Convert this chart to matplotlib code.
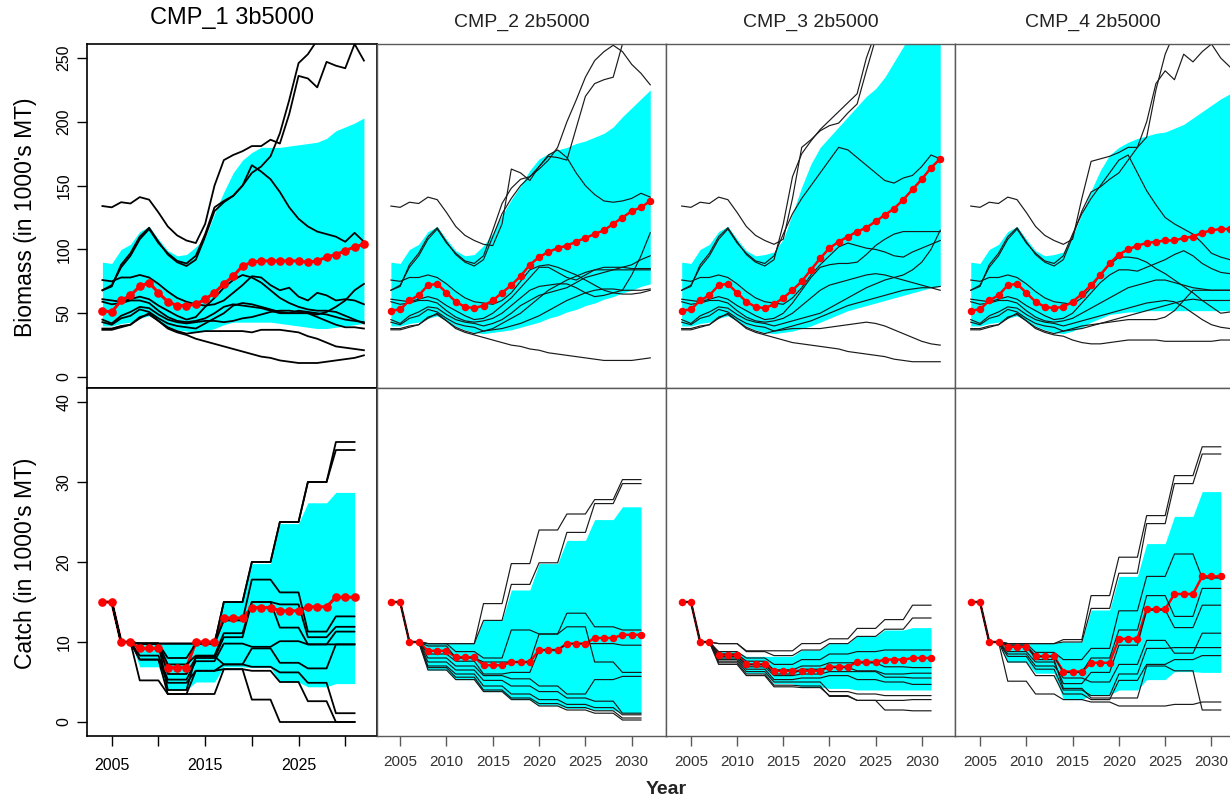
import numpy as np
import matplotlib
matplotlib.use('Agg')
import matplotlib.pyplot as plt

plt.rcParams['font.family'] = ['Liberation Sans', 'DejaVu Sans']

# ---------------- DATA ----------------
titles = ["CMP_1 3b5000", "CMP_2 2b5000", "CMP_3 2b5000", "CMP_4 2b5000"]
years_bio = list(range(2004, 2033))      # 29 years
years_catch = list(range(2004, 2032))    # 28 years
catch_block_len = [2, 2, 3, 3, 3, 3, 3, 3, 3, 3]
catch_start = [15.0, 10.0]               # shared first two TAC blocks

# biomass history 2004-2013, shared by all CMPs (10 trajectories)
bio_hist = [
    [134, 133, 137, 136, 141, 139, 129, 118, 111, 107],
    [68, 71, 88, 97, 110, 117, 106, 96, 90, 87],
    [68, 72, 86, 95, 108, 116, 105, 97, 91, 89],
    [76, 75, 78, 78, 80, 78, 73, 67, 62, 59],
    [61, 60, 59, 61, 63, 61, 56, 52, 48, 45],
    [59, 57, 58, 60, 60, 58, 52, 47, 44, 43],
    [45, 42, 48, 51, 55, 54, 49, 45, 43, 42],
    [43, 41, 46, 48, 53, 51, 46, 42, 40, 39],
    [38, 38, 40, 41, 47, 49, 44, 39, 36, 34],
    [37, 37, 39, 41, 46, 50, 44, 38, 35, 33],
]

# biomass projections 2014-2032
bio_proj_1 = [
    [105, 120, 150, 170, 174, 177, 181, 181, 186, 183, 206, 236, 234, 227, 247, 244, 242, 261, 248],
    [92, 110, 130, 137, 142, 150, 160, 165, 173, 191, 217, 246, 253, 264, 275, 285, 290, 295, 300],
    [95, 112, 133, 138, 142, 150, 166, 161, 155, 145, 133, 124, 118, 114, 112, 110, 106, 113, 106],
    [57, 56, 57, 60, 66, 72, 79, 78, 72, 68, 70, 63, 60, 66, 64, 60, 61, 60, 57],
    [47, 55, 62, 70, 76, 80, 78, 74, 68, 62, 58, 55, 53, 52, 52, 51, 48, 45, 42],
    [44, 46, 50, 55, 57, 56, 55, 54, 52, 50, 50, 52, 51, 50, 49, 47, 45, 44, 43],
    [43, 44, 44, 43, 44, 46, 47, 49, 51, 52, 52, 51, 50, 47, 44, 41, 39, 39, 38],
    [38, 42, 46, 50, 56, 58, 57, 55, 53, 51, 50, 50, 50, 49, 51, 55, 60, 68, 73],
    [35, 36, 36, 36, 36, 36, 35, 37, 37, 37, 36, 35, 32, 30, 27, 24, 23, 22, 21],
    [30, 28, 26, 24, 22, 20, 18, 16, 15, 13, 12, 11, 11, 11, 12, 13, 14, 15, 17],
]
bio_proj_2 = [
    [104, 103, 120, 163, 160, 154, 165, 173, 172, 170, 195, 220, 230, 233, 235, 261, 275, 285, 295],
    [92, 110, 128, 140, 150, 157, 165, 174, 178, 172, 160, 150, 143, 138, 137, 138, 140, 144, 141],
    [95, 115, 136, 148, 155, 157, 163, 170, 180, 200, 217, 235, 248, 255, 260, 255, 245, 238, 229],
    [58, 57, 60, 66, 75, 84, 87, 88, 86, 83, 80, 76, 72, 68, 66, 65, 65, 66, 68],
    [46, 50, 56, 62, 70, 78, 86, 86, 82, 78, 76, 80, 84, 84, 84, 84, 84, 84, 84],
    [44, 46, 50, 56, 62, 68, 71, 72, 73, 73, 70, 66, 63, 64, 66, 68, 80, 95, 113],
    [40, 42, 45, 50, 56, 60, 64, 66, 68, 70, 74, 78, 80, 82, 84, 86, 88, 92, 95],
    [36, 38, 42, 46, 50, 56, 62, 68, 72, 76, 79, 82, 84, 86, 86, 86, 85, 85, 85],
    [36, 37, 38, 40, 42, 45, 48, 52, 56, 60, 63, 66, 68, 69, 69, 68, 68, 68, 69],
    [31, 29, 27, 25, 24, 22, 21, 19, 18, 17, 16, 15, 14, 13, 13, 13, 13, 14, 15],
]
bio_proj_3 = [
    [104, 108, 140, 180, 186, 193, 197, 199, 207, 214, 240, 265, 285, 300, 310, 320, 330, 340, 350],
    [92, 120, 157, 175, 185, 194, 201, 208, 215, 222, 250, 270, 290, 300, 310, 320, 330, 340, 350],
    [95, 112, 128, 140, 150, 160, 170, 180, 178, 172, 166, 160, 154, 152, 156, 158, 165, 174, 171],
    [58, 57, 62, 70, 80, 88, 95, 102, 105, 103, 101, 100, 98, 95, 94, 98, 101, 104, 107],
    [46, 50, 58, 68, 78, 86, 88, 89, 89, 90, 96, 103, 108, 112, 114, 114, 114, 114, 114],
    [44, 46, 50, 56, 62, 68, 72, 74, 76, 78, 80, 81, 80, 78, 76, 74, 72, 70, 68],
    [40, 42, 44, 46, 48, 50, 54, 58, 62, 66, 70, 73, 76, 78, 80, 84, 90, 100, 115],
    [36, 38, 40, 42, 44, 47, 50, 53, 56, 58, 60, 62, 64, 66, 68, 69, 70, 70, 71],
    [36, 37, 38, 38, 38, 38, 39, 40, 41, 42, 43, 42, 40, 37, 34, 31, 28, 26, 25],
    [31, 29, 27, 26, 25, 24, 23, 22, 20, 19, 18, 17, 16, 14, 13, 12, 12, 12, 12],
]
bio_proj_4 = [
    [104, 108, 140, 169, 171, 173, 176, 180, 180, 188, 225, 253, 270, 280, 290, 300, 310, 320, 330],
    [92, 110, 130, 145, 149, 155, 160, 170, 180, 200, 230, 240, 233, 253, 247, 255, 261, 250, 243],
    [95, 112, 128, 140, 150, 160, 170, 174, 160, 146, 135, 125, 120, 116, 112, 105, 97, 94, 92],
    [58, 57, 62, 70, 80, 88, 94, 94, 93, 90, 85, 81, 76, 71, 66, 60, 55, 50, 51],
    [46, 50, 58, 66, 74, 80, 84, 84, 83, 86, 89, 92, 96, 99, 95, 89, 85, 82, 81],
    [44, 46, 50, 54, 58, 62, 66, 70, 72, 74, 76, 76, 74, 72, 70, 69, 68, 68, 68],
    [40, 42, 44, 46, 48, 50, 52, 54, 56, 58, 59, 60, 59, 55, 50, 45, 41, 39, 38],
    [36, 38, 40, 41, 42, 43, 44, 45, 45, 45, 45, 47, 52, 60, 68, 68, 68, 68, 68],
    [36, 37, 38, 40, 42, 44, 46, 48, 50, 52, 54, 56, 58, 60, 61, 60, 60, 60, 60],
    [32, 29, 27, 26, 26, 27, 28, 29, 29, 29, 29, 28, 28, 28, 28, 28, 28, 29, 29],
]

bio_median_1 = [52, 51, 60, 64, 71, 74, 66, 59, 56, 56, 57, 61, 66, 73, 79, 87, 90, 91, 91, 91, 91, 91, 90, 91, 94, 96, 99, 102, 104]
bio_median_2 = [52, 53, 60, 64, 72, 73, 66, 59, 55, 54, 56, 60, 66, 72, 79, 88, 94, 98, 101, 103, 106, 109, 112, 115, 120, 125, 130, 133, 138]
bio_median_3 = [52, 53, 60, 64, 72, 73, 66, 59, 55, 54, 57, 62, 68, 75, 84, 93, 101, 106, 110, 114, 117, 122, 127, 132, 139, 147, 155, 164, 171]
bio_median_4 = [52, 53, 60, 64, 72, 73, 66, 59, 55, 54, 55, 59, 65, 72, 80, 89, 96, 100, 103, 105, 106, 107, 107, 109, 110, 113, 115, 116, 116]

bio_upper_1 = [90, 89, 100, 104, 114, 118, 108, 99, 95, 96, 102, 109, 128, 145, 160, 170, 176, 180, 180, 180, 181, 182, 183, 184, 187, 193, 196, 199, 203]
bio_upper_2 = [90, 89, 100, 104, 114, 118, 108, 99, 95, 96, 103, 113, 127, 139, 150, 162, 171, 175, 178, 180, 183, 185, 188, 191, 196, 204, 211, 218, 225]
bio_upper_3 = [90, 89, 100, 104, 114, 118, 108, 99, 95, 96, 98, 108, 128, 149, 167, 180, 188, 196, 204, 212, 220, 226, 235, 247, 259, 272, 285, 295, 305]
bio_upper_4 = [90, 89, 100, 104, 114, 118, 108, 99, 95, 96, 98, 110, 128, 146, 162, 174, 180, 184, 187, 189, 191, 192, 195, 198, 203, 208, 213, 218, 222]

bio_lower_1 = [40, 40, 42, 43, 46, 48, 44, 40, 37, 36, 35, 36, 38, 41, 43, 43, 43, 43, 43, 42, 41, 40, 39, 38, 38, 39, 40, 41, 42]
bio_lower_2 = [40, 40, 42, 43, 46, 48, 44, 40, 37, 35, 34, 35, 36, 37, 39, 41, 43, 46, 48, 51, 53, 56, 58, 61, 63, 66, 68, 71, 73]
bio_lower_3 = [40, 40, 42, 43, 46, 48, 44, 40, 37, 35, 34, 35, 36, 38, 40, 43, 46, 49, 52, 54, 56, 58, 60, 62, 64, 66, 68, 70, 71]
bio_lower_4 = [40, 40, 42, 43, 46, 48, 44, 40, 37, 35, 34, 36, 39, 43, 46, 49, 50, 51, 51, 52, 52, 52, 52, 52, 52, 52, 52, 52, 52]

# catch: block values for TAC periods starting 2008, 2011, 2014, 2017, 2020, 2023, 2026, 2029
catch_lines_1 = [
    [9.8, 9.8, 9.8, 15.0, 20.0, 25.0, 30.0, 35.0],
    [9.8, 9.8, 9.8, 15.0, 20.0, 25.0, 30.0, 34.0],
    [9.8, 8.0, 9.8, 12.7, 17.8, 16.2, 11.3, 13.2],
    [9.8, 7.2, 8.3, 11.1, 15.0, 14.7, 10.6, 11.9],
    [9.8, 6.0, 8.0, 10.6, 15.0, 11.8, 9.7, 11.3],
    [8.3, 5.3, 7.6, 9.8, 9.4, 10.1, 9.7, 9.7],
    [7.8, 4.9, 6.4, 7.2, 9.2, 7.4, 6.7, 9.7],
    [9.8, 4.0, 8.2, 7.2, 6.9, 6.2, 4.9, 1.1],
    [7.8, 3.5, 6.4, 6.6, 6.4, 5.0, 2.6, 0.0],
    [5.2, 3.5, 3.5, 6.6, 2.8, 0.0, 0.0, 0.0],
]
catch_lines_2 = [
    [9.8, 9.8, 14.8, 19.8, 24.0, 26.0, 27.8, 30.3],
    [9.8, 9.8, 12.7, 17.2, 19.9, 23.7, 27.3, 29.8],
    [9.8, 8.8, 8.0, 11.5, 11.0, 13.6, 11.9, 11.5],
    [9.5, 8.0, 7.5, 7.5, 11.0, 11.9, 7.5, 6.2],
    [8.5, 7.6, 6.0, 6.2, 9.0, 9.8, 9.8, 9.6],
    [8.0, 7.0, 5.8, 5.4, 4.5, 3.5, 5.3, 5.7],
    [7.5, 6.5, 5.2, 4.5, 3.8, 3.0, 2.6, 1.1],
    [7.0, 6.0, 4.5, 3.5, 2.8, 2.2, 1.8, 0.9],
    [6.8, 5.6, 4.0, 3.0, 2.3, 1.8, 1.4, 0.5],
    [6.5, 5.3, 3.8, 2.8, 2.0, 1.5, 1.1, 0.25],
]
catch_lines_3 = [
    [9.8, 8.9, 8.9, 9.8, 10.4, 11.7, 12.8, 14.6],
    [9.8, 8.8, 8.3, 9.0, 9.8, 10.7, 11.6, 13.0],
    [8.8, 8.0, 7.2, 7.8, 8.5, 8.8, 9.0, 9.0],
    [8.5, 7.6, 6.5, 7.0, 7.4, 7.4, 6.9, 6.8],
    [8.2, 7.2, 6.0, 6.6, 6.8, 6.4, 6.0, 6.1],
    [8.0, 6.9, 5.8, 6.0, 6.3, 6.3, 5.6, 5.5],
    [7.8, 6.6, 5.3, 5.5, 5.8, 5.3, 5.0, 4.7],
    [7.6, 6.3, 5.0, 5.0, 3.8, 3.5, 3.3, 3.3],
    [7.4, 6.0, 4.6, 4.5, 3.2, 2.7, 2.7, 2.8],
    [7.2, 5.8, 4.4, 4.3, 3.3, 2.7, 1.5, 1.4],
]
catch_lines_4 = [
    [9.8, 9.8, 10.3, 15.8, 20.6, 25.8, 30.8, 34.4],
    [9.8, 9.8, 10.0, 14.2, 18.6, 24.8, 29.8, 33.5],
    [9.8, 8.7, 7.8, 9.2, 13.9, 18.2, 21.0, 18.0],
    [9.6, 8.2, 6.2, 8.0, 11.5, 15.8, 13.2, 16.7],
    [8.8, 7.5, 4.8, 6.2, 9.6, 14.0, 11.8, 14.6],
    [8.5, 7.0, 5.5, 5.0, 7.2, 10.2, 8.6, 11.1],
    [8.2, 6.6, 4.0, 3.3, 6.0, 9.2, 9.3, 9.3],
    [7.5, 5.8, 3.5, 2.8, 5.2, 7.2, 7.8, 8.3],
    [5.1, 3.5, 2.8, 2.5, 2.0, 2.0, 2.2, 2.5],
    [9.8, 7.8, 4.2, 3.0, 3.0, 7.0, 6.4, 1.5],
]
catch_median_1 = [9.2, 6.8, 10.0, 13.0, 14.3, 13.9, 14.4, 15.6]
catch_median_2 = [8.9, 8.1, 7.1, 7.5, 9.0, 9.8, 10.5, 10.9]
catch_median_3 = [8.4, 7.2, 6.4, 6.4, 6.9, 7.5, 7.8, 8.0]
catch_median_4 = [9.4, 8.2, 6.3, 7.4, 10.4, 14.1, 16.0, 18.2]

catch_upper_1 = [9.8, 9.8, 9.8, 15.0, 19.8, 24.8, 27.4, 28.7]
catch_upper_2 = [9.8, 9.8, 12.7, 16.5, 19.8, 22.7, 25.3, 26.9]
catch_upper_3 = [8.8, 8.2, 8.2, 9.0, 9.8, 10.7, 11.5, 11.8]
catch_upper_4 = [9.8, 9.8, 10.0, 14.0, 18.2, 22.3, 25.7, 28.8]

catch_lower_1 = [6.9, 4.0, 5.0, 6.9, 6.8, 5.0, 4.4, 4.8]
catch_lower_2 = [6.5, 5.3, 3.8, 2.8, 2.1, 1.7, 1.5, 1.1]
catch_lower_3 = [7.8, 6.1, 4.8, 4.4, 4.2, 4.0, 4.0, 4.0]
catch_lower_4 = [7.5, 6.1, 2.8, 3.4, 4.0, 5.3, 6.3, 6.2]

# ---------------- PLOT ----------------
bio_proj = [bio_proj_1, bio_proj_2, bio_proj_3, bio_proj_4]
bio_median = [bio_median_1, bio_median_2, bio_median_3, bio_median_4]
bio_upper = [bio_upper_1, bio_upper_2, bio_upper_3, bio_upper_4]
bio_lower = [bio_lower_1, bio_lower_2, bio_lower_3, bio_lower_4]
catch_lines = [catch_lines_1, catch_lines_2, catch_lines_3, catch_lines_4]
catch_median = [catch_median_1, catch_median_2, catch_median_3, catch_median_4]
catch_upper = [catch_upper_1, catch_upper_2, catch_upper_3, catch_upper_4]
catch_lower = [catch_lower_1, catch_lower_2, catch_lower_3, catch_lower_4]


def expand(blocks):
    return np.repeat(catch_start + list(blocks), catch_block_len)


W, H = 1230, 806
fig = plt.figure(figsize=(W / 100, H / 100), dpi=100)


def rect(x0, y0, x1, y1):
    return [x0 / W, 1 - y1 / H, (x1 - x0) / W, (y1 - y0) / H]


cols = [(87, 377, (2002.35, 2033.4)),
        (377, 666, (2002.5, 2033.7)),
        (666, 955, (2002.3, 2033.6)),
        (955, 1230, (2002.3, 2032.0))]
CYAN = '#00FFFF'
RED = '#FF0000'

for i, (x0, x1, xl) in enumerate(cols):
    first = (i == 0)
    lcol = 'black' if first else '#1a1a1a'
    llw = 1.3 if first else 0.85
    fcol = 'black' if first else '#5a5a5a'
    flw = 1.2 if first else 1.0
    tcol = 'black' if first else '#333333'
    rlw = 2.2 if first else 1.8
    rms = 5.2 if first else 4.4

    # ---- biomass ----
    ax = fig.add_axes(rect(x0, 44, x1, 388))
    ax.fill_between(years_bio, bio_lower[i], bio_upper[i], color=CYAN, lw=0, zorder=1)
    for h, p in zip(bio_hist, bio_proj[i]):
        ax.plot(years_bio, list(h) + list(p), color=lcol, lw=llw, zorder=2)
    ax.plot(years_bio, bio_median[i], color=RED, lw=rlw, marker='o', ms=rms, zorder=3)
    ax.set_xlim(*xl)
    ax.set_ylim(-8.6, 261)
    ax.set_xticks([])
    if first:
        ax.set_yticks([0, 50, 100, 150, 200, 250])
        ax.set_yticklabels(['0', '50', '100', '150', '200', '250'], rotation=90, va='center', fontsize=11.5)
        ax.tick_params(axis='y', direction='out', length=7, width=1, pad=4)
    else:
        ax.set_yticks([])
    for s in ax.spines.values():
        s.set_color(fcol)
        s.set_linewidth(flw)
    if i == 3:
        ax.spines['right'].set_visible(False)

    # ---- catch ----
    ax2 = fig.add_axes(rect(x0, 388, x1, 736))
    ax2.fill_between(years_catch, expand(catch_lower[i]), expand(catch_upper[i]), color=CYAN, lw=0, zorder=1)
    ax2.plot(years_catch, expand(catch_median[i]), color=RED, lw=rlw, zorder=2)
    for c in catch_lines[i]:
        ax2.plot(years_catch, expand(c), color=lcol, lw=llw, zorder=2.5)
    ax2.plot(years_catch, expand(catch_median[i]), color=RED, lw=0, marker='o', ms=rms, zorder=3)
    ax2.set_xlim(*xl)
    ax2.set_ylim(-1.75, 41.75)
    ax2.set_xticks([2005, 2010, 2015, 2020, 2025, 2030])
    if first:
        ax2.set_xticklabels(['2005', '', '2015', '', '2025', ''], fontsize=11.5)
        ax2.set_yticks([0, 10, 20, 30, 40])
        ax2.set_yticklabels(['0', '10', '20', '30', '40'], rotation=90, va='center', fontsize=11.5)
        ax2.tick_params(axis='y', direction='out', length=7, width=1, pad=4)
        ax2.tick_params(axis='x', direction='out', length=7, width=1, pad=9)
    else:
        ax2.set_xticklabels(['2005', '2010', '2015', '2020', '2025', '2030'], fontsize=11)
        ax2.set_yticks([])
        ax2.tick_params(axis='x', direction='out', length=7, width=1, pad=7,
                        colors=fcol, labelcolor=tcol)
    for s in ax2.spines.values():
        s.set_color(fcol)
        s.set_linewidth(flw)
    if i == 3:
        ax2.spines['right'].set_visible(False)

    # titles
    if first:
        fig.text((x0 + x1) / 2 / W, 1 - 18 / H, titles[i], ha='center', va='center', fontsize=17, color='black')
    else:
        fig.text((x0 + x1) / 2 / W, 1 - 22 / H, titles[i], ha='center', va='center', fontsize=14, color='#222222')

fig.text(26 / W, 1 - 217 / H, "Biomass (in 1000's MT)", rotation=90, ha='center', va='center', fontsize=16.5)
fig.text(26 / W, 1 - 563 / H, "Catch (in 1000's MT)", rotation=90, ha='center', va='center', fontsize=16.5)
fig.text(666 / W, 1 - 790 / H, "Year", ha='center', va='center', fontsize=14, fontweight='bold', color='#222222')

fig.savefig('out.png', dpi=100)
